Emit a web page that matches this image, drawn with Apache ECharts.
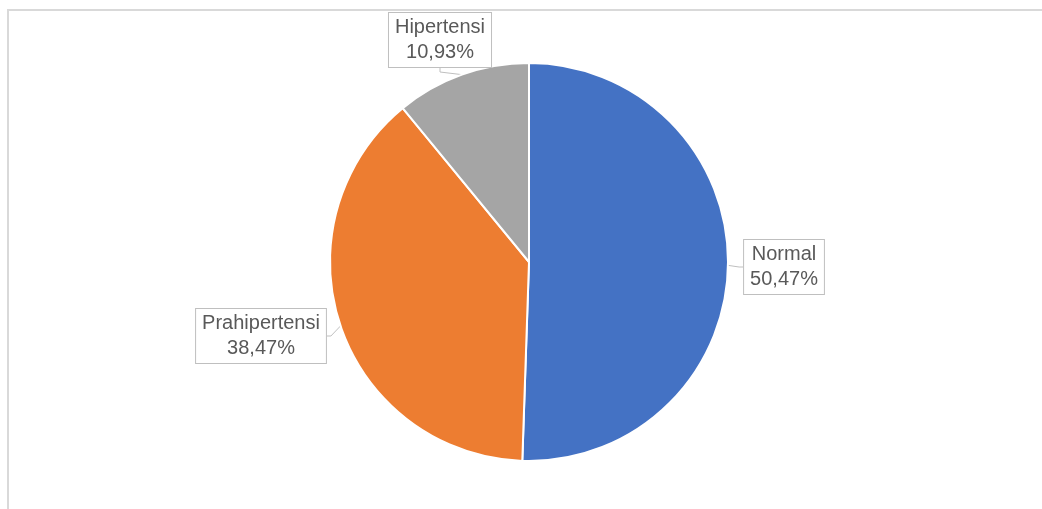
<!DOCTYPE html>
<html>
<head>
<meta charset="utf-8">
<script src="https://cdn.jsdelivr.net/npm/echarts@6/dist/echarts.min.js"></script>
<style>
html, body { margin: 0; padding: 0; background: #fff; }
#main { width: 1042px; height: 509px; }
</style>
</head>
<body>
<div id="main"></div>
<script>
// data
var names = ['Normal', 'Prahipertensi', 'Hipertensi'];
var values = [50.47, 38.47, 10.93];
var colors = ['#4472C4', '#ED7D31', '#A5A5A5'];
// label box centres (px)
var labelPos = [[784, 267], [261, 336], [440, 40]];

var chart = echarts.init(document.getElementById('main'));

var pieData = [];
for (var i = 0; i < names.length; i++) {
	pieData.push({ name: names[i], value: values[i], itemStyle: { color: colors[i] } });
}

var option = {
	animation: false,
	graphic: [
		{ type: 'line', shape: { x1: 8, y1: 10, x2: 1042, y2: 10 }, style: { stroke: '#d9d9d9', lineWidth: 2 } },
		{ type: 'line', shape: { x1: 8, y1: 9, x2: 8, y2: 509 }, style: { stroke: '#d9d9d9', lineWidth: 2 } }
	],
	series: [{
		type: 'pie',
		center: [529, 262],
		radius: 199,
		startAngle: 90,
		clockwise: true,
		itemStyle: { borderColor: '#fff', borderWidth: 2 },
		label: {
			show: true,
			formatter: function(p) {
				return p.name + '\n' + p.value.toFixed(2).replace('.', ',') + '%';
			},
			fontFamily: 'Liberation Sans, Arial, sans-serif',
			fontSize: 20,
			lineHeight: 25,
			color: '#595959',
			align: 'center',
			backgroundColor: '#fff',
			borderColor: '#bfbfbf',
			borderWidth: 1,
			padding: [2, 6]
		},
		labelLine: {
			show: true,
			length: 4,
			length2: 4,
			lineStyle: { color: '#bfbfbf', width: 1 }
		},
		labelLayout: function(params) {
			var p = labelPos[params.dataIndex];
			return { x: p[0], y: p[1], align: 'center', verticalAlign: 'middle' };
		},
		data: pieData
	}]
};
chart.setOption(option);
</script>
</body>
</html>
